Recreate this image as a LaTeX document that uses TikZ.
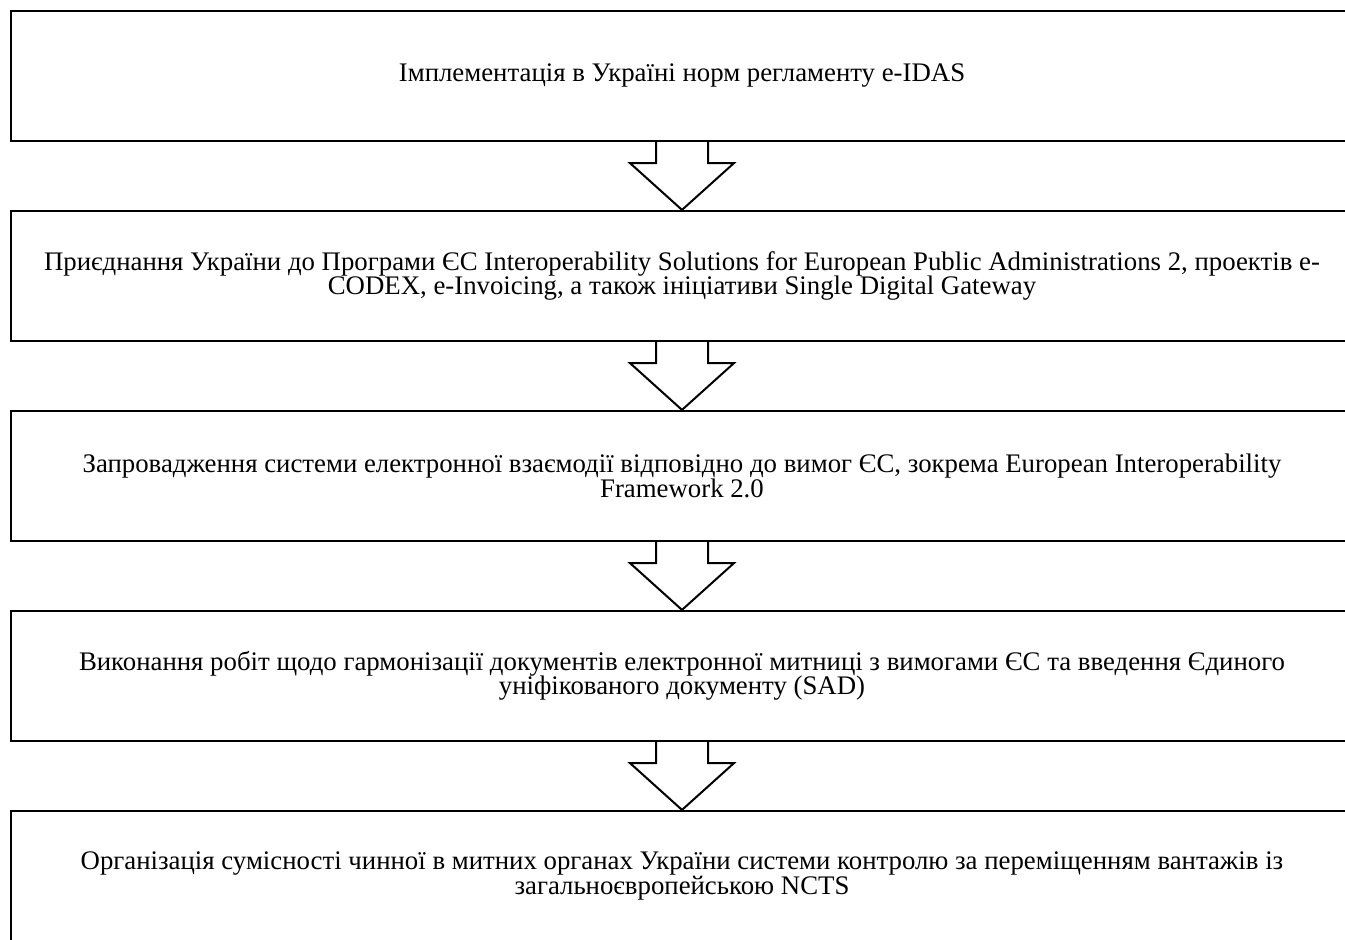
\documentclass[tikz,border=0pt]{standalone}
\usepackage{fontspec}
\setmainfont{Liberation Serif}
\usetikzlibrary{calc}
\newcommand{\stagefont}{\fontsize{13.4}{12.2}\selectfont\lineskiplimit=-20pt\relax}
\tikzset{
	stagebox/.style = {
		draw, line width=1.1pt, rectangle,
		minimum width=671pt, minimum height=65pt,
		inner sep=0pt, align=center,
		font=\stagefont
	},
	blockarrow/.style = {draw, line width=1pt, line join=miter}
}

\begin{document}
\begin{tikzpicture}[x=0.5pt, y=-0.5pt]
	\useasboundingbox (0,0) rectangle (1345,940);
	\clip (0,0) rectangle (1345,940);
	
	\node [stagebox] (s1) at (682,76) {Імплементація в Україні норм регламенту e-IDAS};
	\node [stagebox] (s2) at (682,276) {Приєднання України до Програми ЄС Interoperability Solutions for European Public Administrations 2, проектів e-\\CODEX, e-Invoicing, а також ініціативи Single Digital Gateway};
	\node [stagebox] (s3) at (682,476) {Запровадження системи електронної взаємодії відповідно до вимог ЄС, зокрема European Interoperability\\Framework 2.0};
	\node [stagebox] (s4) at (682,676) {Виконання робіт щодо гармонізації документів електронної митниці з вимогами ЄС та введення Єдиного\\уніфікованого документу (SAD)};
	\node [stagebox] (s5) at (682,876) {Організація сумісності чинної в митних органах України системи контролю за переміщенням вантажів із\\загальноєвропейською NCTS};
	
	% block arrows between the stages
	\foreach \a/\b in {s1/s2, s2/s3, s3/s4, s4/s5}
	{
		\draw [blockarrow] ($(\a.south)+(-26,0)$) -- ++(0,21) -- ++(-26,0) -- (\b.north) -- ($(\a.south)+(52,21)$) -- ++(-26,0) -- ($(\a.south)+(26,0)$);
	}
\end{tikzpicture}
\end{document}
